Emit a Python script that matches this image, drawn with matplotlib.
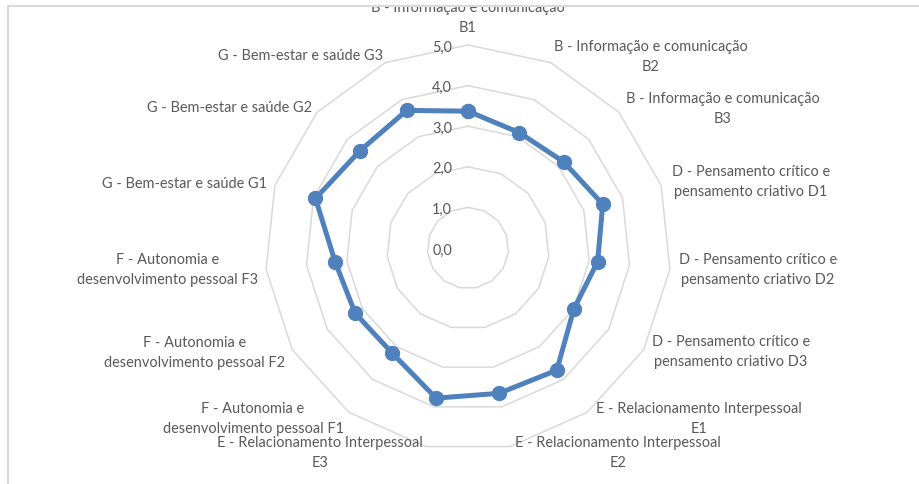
import numpy as np
import matplotlib
matplotlib.use("Agg")
import matplotlib.pyplot as plt
from matplotlib.patches import Rectangle
from matplotlib.transforms import offset_copy

# ---------------- data ----------------
categories = [
    "B - Informação e comunicação\nB1",
    "B - Informação e comunicação\nB2",
    "B - Informação e comunicação\nB3",
    "D - Pensamento crítico e\npensamento criativo D1",
    "D - Pensamento crítico e\npensamento criativo D2",
    "D - Pensamento crítico e\npensamento criativo D3",
    "E - Relacionamento Interpessoal\nE1",
    "E - Relacionamento Interpessoal\nE2",
    "E - Relacionamento Interpessoal\nE3",
    "F - Autonomia e\ndesenvolvimento pessoal F1",
    "F - Autonomia e\ndesenvolvimento pessoal F2",
    "F - Autonomia e\ndesenvolvimento pessoal F3",
    "G - Bem-estar e saúde G1",
    "G - Bem-estar e saúde G2",
    "G - Bem-estar e saúde G3",
]
values = [3.37, 3.11, 3.17, 3.49, 3.21, 3.01, 3.72, 3.66, 3.78,
          3.19, 3.21, 3.29, 3.95, 3.58, 3.71]
ring_levels = [1, 2, 3, 4, 5]
tick_values = [0, 1, 2, 3, 4, 5]
tick_labels = ["0,0", "1,0", "2,0", "3,0", "4,0", "5,0"]

# ---------------- layout (pixels) ----------------
W, H, DPI = 919, 484, 100
CX, CY, R = 468, 248, 203
label_centers = [
    (468, 18), (651, 57), (723, 109), (751, 182), (758, 270), (731, 352),
    (699, 419), (618, 453), (320, 453), (253, 419), (195, 353), (168, 270),
    (185, 184), (230, 108), (301, 56),
]

GRID = "#d9d9d9"
LINE = "#4f81bd"
TXT = "#595959"
FONT = "Lato"

fig = plt.figure(figsize=(W / DPI, H / DPI), dpi=DPI)
fig.patch.set_facecolor("white")

# fit font size so that a reference label matches its width in the original
probe = fig.text(0, 0, "G - Bem-estar e saúde G2", fontsize=10, family=FONT)
fig.canvas.draw()
w10 = probe.get_window_extent().width
probe.remove()
FS = 10 * 164.5 / w10

ax = fig.add_axes([(CX - R) / W, (H - CY - R) / H, 2 * R / W, 2 * R / H],
                  projection="polar")
ax.set_theta_offset(np.pi / 2)
ax.set_theta_direction(-1)
ax.set_ylim(0, 5)
ax.set_axis_off()

n = len(categories)
angles = np.arange(n) * 2 * np.pi / n
closed_a = np.append(angles, angles[0])

for lvl in ring_levels:
    ax.plot(closed_a, [lvl] * (n + 1), color=GRID, lw=1.1, zorder=1,
            clip_on=False)

ax.plot(closed_a, np.append(values, values[0]), color=LINE, lw=3.6,
        marker="o", ms=10, zorder=3, clip_on=False)

tr = offset_copy(ax.transData, fig=fig, x=-16, y=-1, units="dots")
for v, lab in zip(tick_values, tick_labels):
    ax.text(0, v, lab, transform=tr, ha="right", va="center_baseline",
            fontsize=FS, color=TXT, family=FONT)

clip_rect = Rectangle((0, 0), 1, (H - 6.5) / H, transform=fig.transFigure,
                      fill=False, visible=False)
fig.add_artist(clip_rect)
for lab, (x, y) in zip(categories, label_centers):
    t = fig.text(x / W, 1 - y / H, lab, ha="center", va="center",
                 multialignment="center", fontsize=FS, color=TXT,
                 family=FONT, linespacing=1.6)
    t.set_clip_path(clip_rect)

# chart area border (only top and left visible)
fig.add_artist(Rectangle((7.7 / W, -0.2), 2, 1.2 - 6.2 / H,
                         transform=fig.transFigure, fill=False,
                         edgecolor=GRID, lw=1.5))

fig.savefig("out.png", dpi=DPI)
